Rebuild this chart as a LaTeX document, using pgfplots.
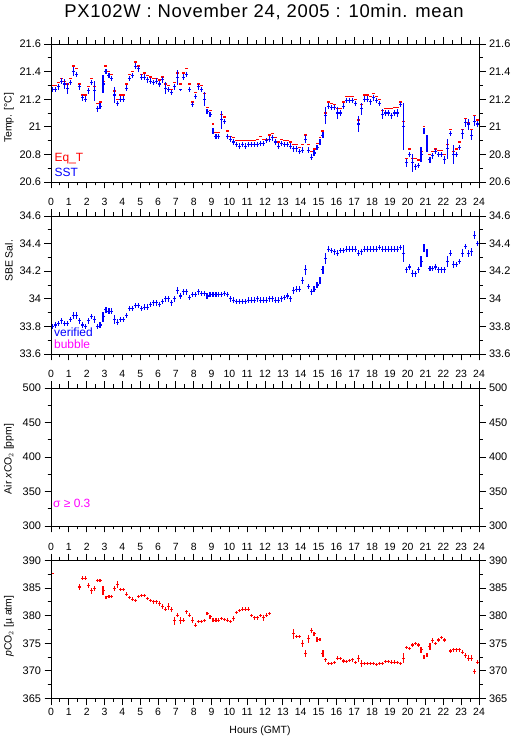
\documentclass[border=0pt]{standalone}
\usepackage{pgfplots}
\pgfplotsset{compat=1.18}
\usepackage{pgfplotstable}
\usepackage{fontspec}
\setmainfont{Liberation Sans}
\definecolor{pblue}{RGB}{0,0,255}
\definecolor{pred}{RGB}{255,0,0}
\definecolor{pmag}{RGB}{255,0,255}
\pgfdeclareplotmark{nothing}{}

% Panel 1: SST and equilibrator temperature, 10-min bins (i = bin index)
\pgfplotstableread{
i sst se eqt
0 21.27 0.02 21.30
1 21.27 0.02 21.30
2 21.29 0.02 21.32
3 21.33 0.02 21.35
4 21.31 0.036 21.33
5 21.28 0.04 21.31
6 21.32 0.02 21.35
7 21.40 0.034 21.44
8 21.38 0.02 21.42
9 21.29 0.02 21.31
10 21.21 0.02 21.23
11 21.20 0.02 21.23
12 21.26 0.02 21.29
13 21.32 0.02 21.35
14 21.26 0.073 21.29
15 21.13 0.02 21.17
16 21.15 0.02 21.18
17 21.31 0.067 21.33
18 21.40 0.02 21.44
19 21.37 0.02 21.40
20 21.35 0.02 21.38
21 21.23 0.055 21.26
22 21.17 0.02 21.20
23 21.20 0.02 21.23
24 21.20 0.02 21.23
25 21.28 0.02 21.31
26 21.35 0.02 21.38
27 21.37 0.02 21.40
28 21.44 0.02 21.47
29 21.42 0.02 21.44
30 21.36 0.02 21.38
31 21.36 0.02 21.39
32 21.34 0.02 21.37
33 21.33 0.02 21.36
34 21.32 0.02 21.35
35 21.33 0.02 21.35
36 21.31 0.02 21.34
37 21.34 0.02 21.36
38 21.28 0.042 21.31
39 21.27 0.02 21.30
40 21.25 0.02 21.27
41 21.29 0.02 21.32
42 21.36 0.055 21.39
43 21.27 0.005 21.31
44 21.36 0.02 21.39
45 21.38 0.02 21.42
46 21.27 0.02 21.31
47 21.16 0.02 21.18
48 21.22 0.02 21.25
49 21.29 0.02 21.31
50 21.27 0.02 21.30
51 21.20 0.05 21.24
52 21.11 0.02 21.14
53 21.09 0.02 21.12
54 20.97 0.02 21.02
55 20.93 0.02 20.96
56 20.93 0.02 20.96
57 21.05 0.067 21.09
58 21.04 0.02 21.07
59 20.93 0.02 20.97
60 20.91 0.02 20.93
61 20.89 0.02 20.92
62 20.87 0.02 20.90
63 20.86 0.02 20.90
64 20.87 0.02 20.90
65 20.86 0.02 20.90
66 20.87 0.02 20.90
67 20.87 0.02 20.90
68 20.87 0.02 20.90
69 20.87 0.02 20.91
70 20.88 0.02 20.93
71 20.88 0.02 20.91
72 20.90 0.02 20.91
73 20.91 0.02 20.94
74 20.92 0.02 20.95
75 20.89 0.02 20.92
76 20.86 0.02 20.89
77 20.88 0.02 20.91
78 20.87 0.02 20.90
79 20.87 0.02 20.90
80 20.86 0.02 20.89
81 20.84 0.02 20.87
82 20.84 0.02 20.87
83 20.82 0.02 20.85
84 20.83 0.02 20.87
85 20.91 0.03 20.94
86 20.83 0.02 20.87
87 20.78 0.02 20.82
88 20.81 0.02 20.84
89 20.85 0.02 20.88
90 20.89 0.02 20.92
91 20.94 0.02 20.97
92 21.08 0.06 21.10
93 21.15 0.02 21.18
94 21.14 0.02 21.17
95 21.14 0.02 21.16
96 21.10 0.04 21.13
97 21.10 0.02 21.13
98 21.15 0.02 21.18
99 21.19 0.02 21.22
100 21.19 0.02 21.22
101 21.19 0.02 21.22
102 21.17 0.02 21.20
103 21.02 0.057 21.05
104 21.13 0.045 21.16
105 21.20 0.02 21.23
106 21.20 0.02 21.23
107 21.18 0.02 21.22
108 21.21 0.02 21.24
109 21.19 0.02 21.22
110 21.17 0.02 21.20
111 21.09 0.036 21.12
112 21.10 0.02 21.13
113 21.10 0.02 21.13
114 21.08 0.02 21.13
115 21.10 0.02 21.14
116 21.10 0.03 21.14
117 21.16 0.02 21.18
118 21.00 0.17 21.04
119 20.74 0.03 20.77
120 20.80 0.02 20.84
121 20.74 0.065 20.77
122 20.71 0.02 20.77
123 20.72 0.02 20.76
124 20.80 0.055 20.82
125 20.97 0.02 21.00
126 20.88 0.063 20.91
127 20.76 0.02 20.80
128 20.79 0.02 20.82
129 20.82 0.02 20.84
130 20.80 0.02 20.83
131 20.80 0.02 20.83
132 20.76 0.03 20.80
133 20.84 0.073 20.87
134 20.95 0.02 20.98
135 20.80 0.067 20.82
136 20.80 0.02 20.84
137 20.85 0.02 20.89
138 20.95 0.036 20.98
139 21.03 0.03 21.06
140 21.02 0.04 21.03
141 20.94 0.036 20.98
142 21.04 0.036 21.08
143 21.02 0.02 21.05
}\tempdata

% Panel 2: SBE salinity
\pgfplotstableread{
i sal se
0 33.80 0.02
1 33.81 0.02
2 33.82 0.02
3 33.84 0.02
4 33.82 0.02
5 33.82 0.02
6 33.85 0.02
7 33.88 0.025
8 33.88 0.025
9 33.84 0.02
10 33.81 0.02
11 33.80 0.02
12 33.84 0.02
13 33.87 0.02
14 33.85 0.025
15 33.80 0.02
16 33.81 0.02
17 33.87 0.036
18 33.92 0.02
19 33.91 0.02
20 33.91 0.02
21 33.85 0.03
22 33.83 0.02
23 33.85 0.02
24 33.85 0.02
25 33.88 0.02
26 33.93 0.02
27 33.93 0.02
28 33.95 0.02
29 33.95 0.02
30 33.93 0.02
31 33.94 0.02
32 33.94 0.02
33 33.96 0.02
34 33.97 0.02
35 33.97 0.02
36 33.96 0.02
37 33.98 0.02
38 34.00 0.02
39 34.00 0.02
40 33.97 0.02
41 34.00 0.02
42 34.06 0.025
43 34.02 0.02
44 34.05 0.02
45 34.05 0.02
46 34.01 0.02
47 34.03 0.02
48 34.03 0.02
49 34.05 0.02
50 34.04 0.02
51 34.04 0.02
52 34.02 0.02
53 34.03 0.02
54 34.03 0.02
55 34.03 0.02
56 34.03 0.02
57 34.03 0.02
58 34.04 0.02
59 34.03 0.02
60 34.00 0.02
61 33.99 0.02
62 33.98 0.02
63 33.98 0.02
64 33.98 0.02
65 33.98 0.02
66 33.99 0.02
67 33.99 0.02
68 33.99 0.02
69 34.00 0.02
70 33.99 0.02
71 33.99 0.02
72 33.99 0.02
73 34.00 0.02
74 34.00 0.02
75 33.99 0.02
76 33.99 0.02
77 34.00 0.02
78 34.01 0.02
79 34.02 0.02
80 34.00 0.02
81 34.06 0.025
82 34.07 0.02
83 34.07 0.02
84 34.13 0.025
85 34.21 0.036
86 34.09 0.02
87 34.05 0.02
88 34.07 0.02
89 34.10 0.02
90 34.13 0.025
91 34.21 0.03
92 34.29 0.04
93 34.36 0.02
94 34.35 0.02
95 34.34 0.02
96 34.33 0.02
97 34.35 0.02
98 34.35 0.02
99 34.36 0.02
100 34.36 0.02
101 34.36 0.02
102 34.36 0.02
103 34.33 0.02
104 34.34 0.02
105 34.36 0.02
106 34.36 0.02
107 34.36 0.02
108 34.36 0.02
109 34.36 0.02
110 34.37 0.02
111 34.36 0.02
112 34.36 0.02
113 34.36 0.02
114 34.36 0.02
115 34.36 0.02
116 34.36 0.02
117 34.37 0.02
118 34.33 0.06
119 34.21 0.02
120 34.23 0.02
121 34.18 0.025
122 34.18 0.02
123 34.21 0.02
124 34.27 0.04
125 34.37 0.03
126 34.33 0.03
127 34.22 0.02
128 34.22 0.02
129 34.23 0.02
130 34.21 0.02
131 34.21 0.02
132 34.21 0.02
133 34.27 0.04
134 34.33 0.02
135 34.25 0.025
136 34.25 0.02
137 34.27 0.02
138 34.33 0.03
139 34.38 0.02
140 34.33 0.025
141 34.34 0.03
142 34.46 0.03
143 34.40 0.02
}\saldata

% Panel 4: pCO2
\pgfplotstableread{
i pco pe
0 387.7 0
9 385.2 0.6
10 386.8 0.4
11 386.8 0.4
12 385.5 0.5
13 384.5 0.5
14 384.9 0.5
15 386.4 0.3
16 386.4 0.3
17 384.5 0.8
18 383.3 0.3
19 383.5 0.3
20 383.5 0.3
21 384.9 0.5
22 385.7 0.6
23 384.8 0.3
24 384.8 0.3
25 383.9 0.4
26 383.3 0.3
27 383.0 0.3
28 382.7 0.3
29 383.5 0.3
30 383.7 0.3
31 383.7 0.3
32 383.1 0.3
33 382.8 0.3
34 382.5 0.3
35 382.5 0.3
36 382.2 0.4
37 381.7 0.4
38 381.2 0.4
39 381.7 0.6
40 381.1 0.5
41 379.1 0.75
42 380.1 0.3
43 379.1 0.6
44 379.2 0.4
45 380.7 0.4
46 380.1 0.4
47 379.2 0.6
48 378.3 0.4
49 378.9 0.3
50 379.0 0.3
51 379.1 0.3
52 380.4 0.3
53 379.8 0.4
54 379.2 0.3
55 379.2 0.3
56 379.2 0.3
57 379.5 0.3
58 379.3 0.3
59 379.2 0.3
60 379.0 0.3
61 379.5 0.4
62 380.6 0.3
63 381.0 0.3
64 381.2 0.3
65 381.2 0.3
66 381.2 0.3
67 380.0 0.3
68 379.6 0.3
69 379.6 0.3
70 380.0 0.3
71 379.6 0.5
72 380.1 0.3
73 380.4 0.3
81 376.7 0.85
82 376.2 0.3
83 376.2 0.3
84 375.0 0.6
85 373.2 0.6
86 375.8 0.75
87 377.3 0.4
88 376.7 0.3
89 375.7 0.4
90 375.7 0.3
91 373.2 0.6
92 372.0 0.4
93 371.3 0.3
94 371.3 0.3
95 371.5 0.3
96 372.3 0.4
97 372.2 0.3
98 371.8 0.3
99 371.7 0.3
100 371.9 0.3
101 372.0 0.3
102 371.5 0.3
103 372.2 0.6
104 371.3 0.6
105 371.4 0.3
106 371.4 0.3
107 371.4 0.3
108 371.3 0.3
109 371.1 0.3
110 371.4 0.3
111 371.4 0.3
112 371.7 0.3
113 371.7 0.3
114 371.6 0.3
115 371.6 0.3
116 371.5 0.3
117 371.3 0.3
118 372.3 0.9
119 374.3 0.3
120 374.1 0.3
121 374.7 0.3
122 375.0 0.3
123 374.7 0.3
124 373.8 0.6
125 372.5 0.3
126 372.9 0.3
127 374.4 0.6
128 375.5 0.4
129 375.0 0.3
130 375.6 0.4
131 376.1 0.3
132 375.6 0.4
134 373.6 0.3
135 373.8 0.3
136 373.8 0.3
137 373.8 0.3
138 373.4 0.3
139 372.8 0.5
140 372.3 0.5
141 372.3 0.5
142 369.9 0.4
143 371.6 0.3
}\pcodata

\pgfplotsset{
  panel/.style={
    scale only axis, width=428bp, height=138bp, anchor=south west,
    xmin=0, xmax=24, xtick={0,1,...,24}, minor x tick num=1, minor y tick num=1,
    tick align=outside, major tick length=6.5bp, minor tick length=3.5bp,
    xtick pos=both, ytick pos=both,
    axis line style={line width=0.9bp, black},
    every tick/.style={line width=0.9bp, black},
    yticklabel style={font=\fontsize{11}{11}\selectfont},
    xticklabel style={font=\fontsize{10.5}{10.5}\selectfont},
    /pgf/number format/assume math mode=true,
    clip=false,
  },
  overlay axis/.style={panel, yticklabel pos=right, xticklabel pos=upper},
  hbars/.style={only marks, mark=nothing, error bars/.cd, x dir=both, x fixed=0.08333,
    error mark=none},
  bars/.style={only marks, mark=nothing, error bars/.cd, x dir=both, x fixed=0.08333,
    y dir=both, y explicit, error mark=none},
}

\begin{document}
\begin{tikzpicture}[x=1bp,y=1bp]
\useasboundingbox (0,0) rectangle (515,739);

\node[anchor=base, font=\fontsize{18.5}{18.5}\selectfont\addfontfeatures{LetterSpace=4}]
  at (264,721.5) {PX102W : November 24, 2005 : 10min. mean};

% ---------------- Panel 1 ----------------
\begin{axis}[panel, at={(51bp,557bp)}, ymin=20.6, ymax=21.6,
  ytick={20.6,20.8,21,21.2,21.4,21.6}, xticklabels={}]
\addplot[pred, hbars, error bar style={line width=1.3bp, pred}]
  table[x expr={(\thisrow{i}+0.5)/6}, y=eqt] {\tempdata};
\addplot[pblue, bars, error bar style={line width=1.1bp, pblue}]
  table[x expr={(\thisrow{i}+0.5)/6}, y=sst, y error=se] {\tempdata};
\end{axis}
\begin{axis}[overlay axis, at={(51bp,557bp)}, ymin=20.6, ymax=21.6,
  ytick={20.6,20.8,21,21.2,21.4,21.6}, xticklabels={}]
\end{axis}

% ---------------- Panel 2 ----------------
\begin{axis}[panel, at={(51bp,385bp)}, ymin=33.6, ymax=34.6,
  ytick={33.6,33.8,34,34.2,34.4,34.6}, xticklabels={}]
\addplot[pblue, bars, error bar style={line width=1.1bp, pblue}]
  table[x expr={(\thisrow{i}+0.5)/6}, y=sal, y error=se] {\saldata};
\end{axis}
\begin{axis}[overlay axis, at={(51bp,385bp)}, ymin=33.6, ymax=34.6,
  ytick={33.6,33.8,34,34.2,34.4,34.6}]
\end{axis}

% ---------------- Panel 3 ----------------
\begin{axis}[panel, at={(51bp,213bp)}, ymin=300, ymax=500,
  ytick={300,350,400,450,500}, xticklabels={}]
\end{axis}
\begin{axis}[overlay axis, at={(51bp,213bp)}, ymin=300, ymax=500,
  ytick={300,350,400,450,500}]
\end{axis}

% ---------------- Panel 4 ----------------
\begin{axis}[panel, at={(51bp,40.5bp)}, ymin=365, ymax=390,
  ytick={365,370,375,380,385,390}]
\addplot[pred, bars, error bar style={line width=1.1bp, pred}]
  table[x expr={(\thisrow{i}+0.5)/6}, y=pco, y error=pe] {\pcodata};
\end{axis}
\begin{axis}[overlay axis, at={(51bp,40.5bp)}, ymin=365, ymax=390,
  ytick={365,370,375,380,385,390}]
\end{axis}

% axis titles
\begin{scope}[font=\fontsize{10.5}{10.5}\selectfont]
\node[rotate=90] at (9,621) {Temp. [°C]};
\node[rotate=90] at (9,478) {SBE Sal.};
\node[rotate=90] at (9,280) {Air \textit{x}CO$_2$ [ppm]};
\node[rotate=90] at (9,113) {\textit{p}CO$_2$ [µ atm]};
\node[anchor=base] at (260,5) {Hours (GMT)};
\end{scope}

% in-panel legends
\begin{scope}[font=\fontsize{12}{12}\selectfont]
\node[anchor=base west, inner sep=0, text=pred] at (54.5,577.5) {Eq\_T};
\node[anchor=base west, inner sep=0, text=pblue] at (54.5,562.5) {SST};
\node[anchor=base west, inner sep=0, text=pblue] at (54,402) {verified};
\node[anchor=base west, inner sep=0, text=pmag] at (54,390) {bubble};
\node[anchor=base west, inner sep=0, text=pmag] at (53,231) {σ ≥ 0.3};
\end{scope}
\end{tikzpicture}
\end{document}
